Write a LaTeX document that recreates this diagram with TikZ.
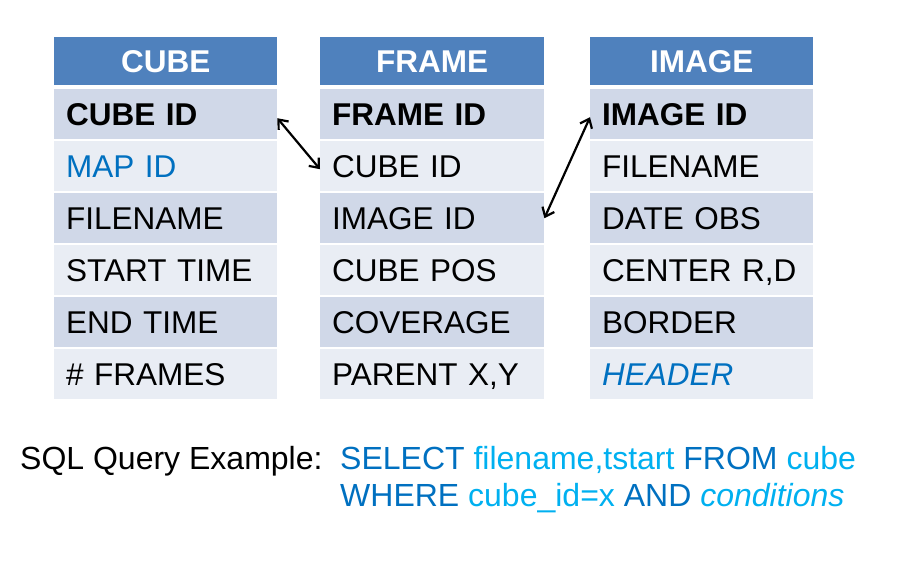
\documentclass[tikz,border=0pt]{standalone}
\usepackage{fontspec}
\setmainfont{Liberation Sans}
\usetikzlibrary{arrows.meta}
\definecolor{hdr}{HTML}{4F81BD}
\definecolor{rowdark}{HTML}{D0D8E8}
\definecolor{rowlight}{HTML}{E9EDF4}
\definecolor{sqldark}{HTML}{0070C0}
\definecolor{sqllight}{HTML}{00B0F0}
\begin{document}
\begin{tikzpicture}[x=1pt,y=-1pt,
  cellbase/.style={anchor=north west, inner xsep=12pt, inner ysep=0pt,
    minimum height=50pt, text height=22.5pt, text depth=0pt,
    font=\fontsize{31.5}{36}\selectfont},
  hdrcell/.style={cellbase, fill=hdr, text=white, align=center,
    minimum height=48pt, font=\fontsize{31.5}{36}\selectfont\bfseries},
  darkcell/.style={cellbase, fill=rowdark, align=left},
  lightcell/.style={cellbase, fill=rowlight, align=left},
  link/.style={line width=2.2pt, {Straight Barb[length=8pt,width=13pt]}-{Straight Barb[length=8pt,width=13pt]}},
  sqlfont/.style={font=\fontsize{32}{38}\selectfont, inner sep=0pt, anchor=base west}
]
\useasboundingbox (0,0) rectangle (900,563);
% CUBE
\node[hdrcell, text width=199pt] (ch) at (54,37) {CUBE};
\node[darkcell, text width=199pt] (c1) at (54,89) {\bfseries CUBE ID};
\node[lightcell, text width=199pt] (c2) at (54,141) {\color{sqldark}MAP ID};
\node[darkcell, text width=199pt] (c3) at (54,193) {FILENAME};
\node[lightcell, text width=199pt] (c4) at (54,245) {START TIME};
\node[darkcell, text width=199pt] (c5) at (54,297) {END TIME};
\node[lightcell, text width=199pt] (c6) at (54,349) {\# FRAMES};
% FRAME
\node[hdrcell, text width=200pt] (fh) at (320,37) {FRAME};
\node[darkcell, text width=200pt] (f1) at (320,89) {\bfseries FRAME ID};
\node[lightcell, text width=200pt] (f2) at (320,141) {CUBE ID};
\node[darkcell, text width=200pt] (f3) at (320,193) {IMAGE ID};
\node[lightcell, text width=200pt] (f4) at (320,245) {CUBE POS};
\node[darkcell, text width=200pt] (f5) at (320,297) {COVERAGE};
\node[lightcell, text width=200pt] (f6) at (320,349) {PARENT X,Y};
% IMAGE
\node[hdrcell, text width=199pt] (ih) at (590,37) {IMAGE};
\node[darkcell, text width=199pt] (i1) at (590,89) {\bfseries IMAGE ID};
\node[lightcell, text width=199pt] (i2) at (590,141) {FILENAME};
\node[darkcell, text width=199pt] (i3) at (590,193) {DATE OBS};
\node[lightcell, text width=199pt] (i4) at (590,245) {CENTER R,D};
\node[darkcell, text width=199pt] (i5) at (590,297) {BORDER};
\node[lightcell, text width=199pt] (i6) at (590,349) {\color{sqldark}\itshape HEADER};
% links
\draw[link] ([yshift=-4pt]c1.east) -- ([yshift=-3pt]f2.west);
\draw[link] (f3.east) -- ([yshift=-3pt]i1.west);
% SQL
\node[sqlfont] (sqllabel) at (20,469) {SQL Query Example:};
\node[sqlfont] (sql1) at (340,469) {\color{sqldark}SELECT \color{sqllight}filename,tstart \color{sqldark}FROM \color{sqllight}cube};
\node[sqlfont] (sql2) at (340,506) {\color{sqldark}WHERE \color{sqllight}cube\_id=x \color{sqldark}AND \color{sqllight}\itshape conditions};
\end{tikzpicture}
\end{document}
